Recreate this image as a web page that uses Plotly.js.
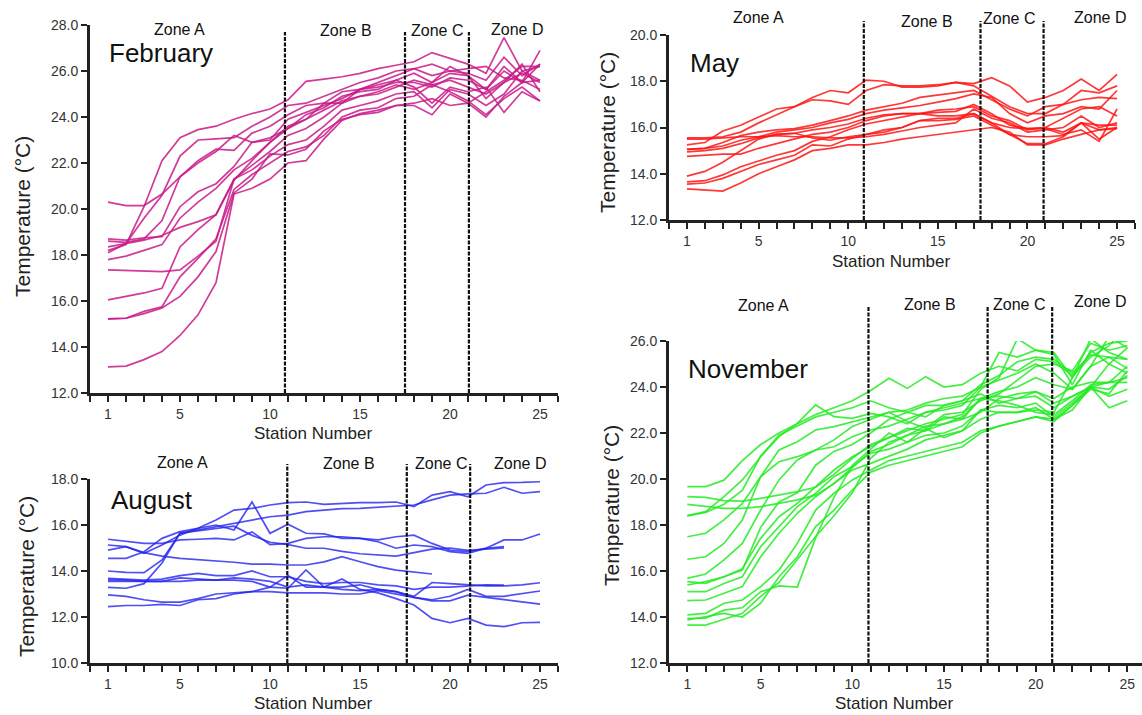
<!DOCTYPE html>
<html>
<head>
<meta charset="utf-8">
<script src="https://cdn.plot.ly/plotly-3.0.1.min.js"></script>
<style>html,body{margin:0;padding:0;background:#fff;}#chart{width:1142px;height:715px;}</style>
</head>
<body>
<div id="chart"></div>
<script>
// ---------- DATA ----------
const stations = [1,2,3,4,5,6,7,8,9,10,11,12,13,14,15,16,17,18,19,20,21,22,23,24,25];
const xTickVals = [0,1,2,3,4,5,6,7,8,9,10,11,12,13,14,15,16,17,18,19,20,21,22,23,24,25,26];
const xTickText = ['','1','','','','5','','','','','10','','','','','15','','','','','20','','','','','25',''];
const zoneNames = ['Zone A','Zone B','Zone C','Zone D'];

const febBounds = [10.83, 17.5, 21.05];
const mayBounds = [10.87, 17.38, 20.9];
const augBounds = [10.96, 17.6, 21.12];
const novBounds = [10.88, 17.38, 20.9];

const febLines = [
 [18.2,18.45,20.1,22.1,23.1,23.45,23.6,23.9,24.15,24.35,24.75,25.55,25.65,25.75,25.9,26.1,26.25,26.4,26.8,26.55,26.3,25.9,27.45,26.0,26.2],
 [18.1,18.5,19.6,20.6,22.3,23.0,23.05,23.1,23.6,24.0,24.5,24.6,24.9,25.2,25.5,25.7,26.0,26.1,25.8,26.0,25.9,25.6,26.6,25.8,26.3],
 [18.6,18.55,18.7,19.5,21.4,22.1,22.6,22.55,23.3,23.6,24.1,24.5,24.6,25.1,25.2,25.3,25.5,25.5,25.3,25.7,25.6,25.2,26.2,25.5,26.9],
 [18.7,18.65,18.75,18.8,20.1,20.75,21.1,21.85,22.9,23.1,23.5,23.9,24.6,24.6,25.2,25.4,25.6,25.9,25.5,25.9,25.8,24.8,25.5,26.3,25.1],
 [18.35,18.5,18.65,18.85,19.2,19.45,19.75,21.25,22.1,22.9,23.6,23.9,24.3,24.7,24.9,25.1,25.4,25.2,25.5,26.2,25.8,25.2,26.0,25.5,25.6],
 [20.3,20.15,20.15,20.65,21.4,22.0,22.5,23.2,22.9,23.0,23.9,24.2,24.5,24.8,25.2,25.5,25.8,26.1,26.3,26.0,26.1,26.2,25.7,25.6,25.2],
 [17.8,17.95,18.2,18.45,19.6,20.3,20.9,21.7,22.2,22.9,23.5,24.1,24.4,24.9,25.1,25.2,25.6,25.3,24.6,25.3,25.1,25.3,24.2,25.1,24.7],
 [16.05,16.2,16.35,16.55,18.35,19.1,19.75,21.3,21.9,22.5,23.2,23.5,24.0,24.6,24.9,25.0,25.3,25.6,25.4,25.6,25.3,25.0,25.5,25.9,25.5],
 [17.35,17.32,17.28,17.28,17.35,17.95,18.6,21.3,21.7,22.3,22.8,23.0,23.6,24.3,24.5,24.7,25.0,25.1,24.4,25.2,25.0,24.5,25.0,26.0,25.6],
 [15.22,15.25,15.55,15.75,17.05,17.85,18.7,20.85,21.5,22.0,22.5,22.7,23.2,24.0,24.3,24.4,24.8,24.9,25.4,25.1,24.7,24.1,24.8,25.3,24.7],
 [15.22,15.25,15.45,15.7,16.2,17.05,18.15,20.7,21.3,22.4,22.35,22.6,23.4,23.9,24.1,24.2,24.5,24.6,24.8,24.5,24.6,25.1,25.6,26.2,26.2],
 [13.14,13.17,13.45,13.8,14.5,15.4,16.8,20.65,20.9,21.3,22.0,22.1,23.05,23.85,24.15,24.3,24.5,24.5,24.1,25.0,24.6,24.0,24.9,25.5,26.3]
];

const mayLines = [
 [15.55,15.55,15.6,15.8,16.2,16.55,16.9,17.3,17.6,17.5,18.05,18.0,17.75,17.75,17.8,17.95,17.8,17.35,16.9,16.6,16.6,17.0,17.6,17.5,17.8],
 [15.25,15.35,15.85,16.1,16.45,16.8,16.9,17.2,17.15,17.0,17.6,17.85,17.8,17.8,17.85,17.95,17.9,18.15,17.8,17.1,17.3,17.6,18.1,17.6,18.3],
 [15.5,15.5,15.55,15.6,15.6,15.65,15.6,15.6,15.55,15.55,15.6,15.7,15.85,16.0,16.1,16.2,16.8,16.4,16.2,15.8,15.9,16.0,16.5,16.0,16.2],
 [15.05,15.1,15.35,15.65,15.8,15.9,15.95,16.1,16.3,16.5,16.75,16.9,17.05,17.3,17.4,17.5,17.6,17.2,16.8,16.5,16.9,17.0,17.2,17.3,17.25],
 [15.05,15.1,15.2,15.45,15.6,15.8,15.9,16.0,16.2,16.35,16.6,16.75,16.85,16.95,17.1,17.25,17.45,17.3,16.6,16.2,16.5,16.6,16.9,16.8,17.6],
 [14.95,15.0,15.1,15.3,15.55,15.7,15.75,15.9,16.0,16.15,16.4,16.55,16.6,16.6,16.65,16.7,17.0,16.6,16.1,15.95,16.0,16.4,16.8,16.9,16.5],
 [14.75,14.8,14.85,14.85,15.1,15.3,15.5,15.7,15.8,16.0,16.3,16.5,16.6,16.6,16.5,16.5,16.6,16.2,15.7,15.3,15.3,15.6,16.2,15.9,15.95],
 [13.9,14.1,14.5,15.0,15.5,15.7,15.75,15.55,15.45,15.6,15.7,15.8,16.0,16.3,16.4,16.4,16.6,16.2,16.0,15.95,15.95,15.7,15.9,15.4,16.8],
 [13.65,13.7,13.95,14.3,14.55,14.8,15.0,15.4,15.6,15.9,16.15,16.3,16.45,16.6,16.75,16.8,16.9,16.5,16.3,15.9,16.0,15.8,16.2,16.1,16.1],
 [13.55,13.6,13.8,14.1,14.4,14.6,14.8,15.25,15.2,15.5,15.7,15.9,16.0,16.3,16.3,16.35,16.5,16.1,15.7,15.6,15.6,15.65,16.2,15.5,16.0],
 [13.35,13.3,13.25,13.6,14.0,14.3,14.6,15.0,15.1,15.25,15.25,15.35,15.5,15.6,15.7,15.8,15.9,16.0,15.8,15.25,15.25,15.5,15.7,15.9,16.0]
];

const augLines = [
 [14.91,15.06,14.77,15.13,15.56,15.86,16.22,16.65,16.72,16.87,16.97,17.0,16.9,16.94,16.97,16.97,17.0,16.8,17.3,17.45,17.23,17.74,17.84,17.85,17.88],
 [14.0,13.94,13.93,14.48,15.64,15.78,15.93,16.07,16.22,16.36,16.43,16.58,16.65,16.71,16.72,16.77,16.83,16.87,17.09,17.3,17.35,17.38,17.64,17.38,17.45],
 [14.55,14.55,14.84,15.42,15.71,15.86,16.0,15.78,17.0,15.64,16.03,15.64,15.61,15.42,15.42,15.27,14.99,15.13,15.06,14.84,14.77,14.99,15.06,null,null],
 [15.38,15.28,15.2,15.2,15.35,15.38,15.42,15.35,15.7,15.15,15.2,15.42,15.49,15.49,15.42,15.35,15.49,15.56,15.2,14.91,14.84,14.99,15.35,15.35,15.61],
 [15.13,15.06,14.8,14.65,14.55,14.5,14.45,14.38,14.3,14.3,14.26,14.26,14.4,14.62,14.4,14.19,14.04,13.97,13.87,null,null,null,null,null,null],
 [13.29,13.25,13.45,14.35,15.65,15.75,15.85,15.95,15.55,15.25,15.15,14.99,14.99,14.85,14.75,14.7,14.65,14.8,14.95,15.0,14.9,14.95,15.0,null,null],
 [13.68,13.65,13.6,13.65,13.8,13.9,13.8,13.8,14.0,13.75,13.75,13.55,13.45,13.5,13.5,13.4,13.35,13.2,13.3,13.3,13.35,13.4,13.39,null,null],
 [13.61,13.6,13.55,13.55,13.55,13.6,13.6,13.6,13.55,13.3,13.25,14.05,13.3,13.65,13.2,13.05,12.8,12.52,11.94,11.75,11.94,11.65,11.58,11.75,11.77],
 [13.55,13.55,13.55,13.55,13.7,13.65,13.6,13.7,13.65,13.55,13.3,13.4,13.3,13.3,13.4,13.2,13.1,12.9,13.5,13.45,13.4,13.35,13.35,13.4,13.49],
 [12.96,12.9,12.75,12.65,12.65,12.8,13.0,13.05,13.1,13.1,13.05,13.05,13.05,13.0,13.0,13.15,13.0,12.85,12.7,12.7,12.95,12.85,12.75,12.65,12.56],
 [12.45,12.5,12.5,12.55,12.5,12.75,12.8,13.0,13.1,13.3,13.8,13.3,13.3,13.2,13.15,13.2,13.1,12.85,12.75,12.9,13.2,12.9,12.9,13.0,13.13]
];

const novLines = [
 [19.67,19.67,19.95,20.8,21.5,22.0,22.4,22.8,23.1,23.4,23.85,24.38,23.94,24.45,24.0,24.1,24.6,24.9,24.7,25.2,25.1,24.5,25.3,25.8,26.6],
 [19.23,19.2,19.06,19.04,19.16,19.3,19.45,19.64,20.2,20.9,21.5,21.8,22.1,22.4,22.6,22.8,23.9,24.4,26.1,25.6,25.5,24.4,26.1,25.5,25.2],
 [18.9,18.8,18.72,18.72,18.8,18.94,19.09,19.3,19.8,20.5,21.2,21.5,21.9,22.3,22.4,22.6,23.5,23.8,24.0,24.4,24.1,23.9,24.9,26.2,25.7],
 [18.41,18.58,19.23,19.96,20.97,21.84,22.42,23.22,22.71,22.64,22.85,22.7,22.4,22.9,23.0,23.2,24.0,25.5,25.3,25.6,25.4,24.1,25.6,25.0,24.6],
 [17.49,17.64,18.22,18.94,20.1,20.75,20.97,21.26,21.4,21.84,22.13,22.3,22.6,22.9,23.1,23.3,23.5,23.4,23.2,22.9,22.8,23.4,24.1,24.2,24.2],
 [16.51,16.62,17.2,18.22,20.1,21.26,21.62,22.13,22.28,22.49,22.71,22.9,22.5,22.2,22.8,22.9,23.4,23.7,24.3,24.9,25.0,24.7,25.9,25.6,25.8],
 [15.68,15.87,16.48,17.2,18.65,19.96,20.83,21.26,21.7,22.28,22.6,22.9,23.0,23.3,23.5,23.6,24.0,24.3,24.6,25.0,24.6,23.9,24.9,25.3,24.8],
 [15.54,15.46,15.75,16.04,17.9,19.0,19.4,20.6,21.2,21.5,22.0,22.6,22.9,22.7,23.2,23.4,23.7,23.3,23.5,23.8,23.5,24.0,24.2,24.2,24.9],
 [15.39,15.54,15.75,16.1,17.42,18.36,18.94,19.67,20.39,20.97,21.41,21.8,22.2,22.1,22.4,22.7,23.5,23.6,23.5,23.6,23.1,23.6,24.0,24.2,24.4],
 [15.1,15.1,15.46,15.75,17.06,17.93,18.8,19.38,20.1,20.54,21.12,21.3,21.6,21.9,22.0,22.3,23.0,23.2,23.1,23.3,22.7,23.3,24.0,23.1,23.4],
 [14.71,14.74,15.03,15.32,16.62,17.64,18.51,19.23,19.81,20.39,20.68,21.0,21.3,21.7,21.9,22.1,22.6,22.9,22.9,23.1,22.6,23.0,24.0,23.9,24.5],
 [14.09,14.16,14.6,14.74,15.32,16.04,17.2,18.65,19.38,19.96,20.39,20.8,21.0,21.2,21.4,21.6,22.1,22.3,22.5,22.7,22.6,23.2,23.9,23.7,24.7],
 [13.94,13.95,14.3,14.4,15.1,15.35,15.3,17.45,19.2,20.6,21.3,22.0,21.6,22.2,21.8,22.1,23.0,22.9,22.9,23.0,22.9,24.4,25.5,25.9,26.0],
 [13.87,14.0,14.16,14.0,14.6,15.75,16.62,17.93,18.65,19.52,20.3,20.6,20.8,21.0,21.2,21.4,22.0,22.3,22.5,22.7,22.5,23.2,24.0,23.6,23.9],
 [13.65,13.65,13.9,14.16,14.9,15.5,16.5,17.5,18.4,19.4,20.9,21.6,21.9,22.1,22.7,22.6,22.9,23.5,23.7,23.8,23.3,23.6,24.0,25.0,25.7],
 [18.4,18.55,18.9,19.5,21.0,21.9,22.3,22.7,22.9,23.1,23.4,23.1,22.9,23.2,23.2,23.4,24.1,24.5,25.1,25.3,25.2,24.6,25.4,25.3,25.2]
];

// ---------- LAYOUT HELPERS ----------
const W = 1142, H = 715;
const PX = v => v / W;
const PY = v => 1 - v / H;
const FONT = 'Liberation Sans, Arial, sans-serif';

const panels = [
  {name:'February', lines:febLines, color:'rgba(200,25,135,0.85)', xa:'x',  ya:'y',
   xdom:[90,558], ydom:[25,393], xr:[0,26], yr:[12,28], bounds:febBounds, zoneTop:32,
   zoneLbl:[[180,29],[346,30],[437,30],[517,29]], month:[107,53],
   ytitle:[22,217], xtitle:[313,433]},
  {name:'May', lines:mayLines, color:'rgba(255,20,20,0.85)', xa:'x2', ya:'y2',
   xdom:[669,1135], ydom:[35,220], xr:[0,26], yr:[12,20], bounds:mayBounds, zoneTop:21,
   zoneLbl:[[758,17],[927,21],[1009,19],[1100,17]], month:[688,63],
   ytitle:[607,133], xtitle:[891,261]},
  {name:'August', lines:augLines, color:'rgba(35,35,240,0.8)', xa:'x3', ya:'y3',
   xdom:[90,558], ydom:[479,663], xr:[0,26], yr:[10,18], bounds:augBounds, zoneTop:464,
   zoneLbl:[[182,462],[349,463],[441,463],[520,463]], month:[109,500],
   ytitle:[26,577], xtitle:[313,703]},
  {name:'November', lines:novLines, color:'rgba(35,235,35,0.85)', xa:'x4', ya:'y4',
   xdom:[669,1142], ydom:[341,663], xr:[0,25.8], yr:[12,26], bounds:novBounds, zoneTop:306,
   zoneLbl:[[763,305],[930,304],[1019,304],[1100,302]], month:[686,369],
   ytitle:[611,506], xtitle:[894,703]}
];

const traces = [];
const layout = {
  width: W, height: H,
  margin: {l:0, r:0, t:0, b:0},
  paper_bgcolor: '#fff', plot_bgcolor: 'rgba(0,0,0,0)',
  showlegend: false,
  font: {family: FONT, color: '#222'},
  shapes: [], annotations: []
};

panels.forEach((p, idx) => {
  p.lines.forEach(vals => {
    traces.push({
      type: 'scatter', mode: 'lines', x: stations, y: vals,
      xaxis: p.xa, yaxis: p.ya, connectgaps: false, hoverinfo: 'skip',
      line: {color: p.color, width: 1.7}
    });
  });
  const xKey = 'xaxis' + (idx === 0 ? '' : idx + 1);
  const yKey = 'yaxis' + (idx === 0 ? '' : idx + 1);
  const axBase = {
    showline: true, linewidth: 3, linecolor: '#222',
    ticks: 'outside', ticklen: 6, tickwidth: 2, tickcolor: '#222',
    showgrid: false, zeroline: false, fixedrange: true
  };
  layout[xKey] = Object.assign({}, axBase, {
    domain: [PX(p.xdom[0]), PX(p.xdom[1])], range: p.xr, anchor: p.ya,
    tickmode: 'array', tickvals: xTickVals, ticktext: xTickText,
    tickfont: {family: FONT, size: 14, color: '#333'}
  });
  layout[yKey] = Object.assign({}, axBase, {
    domain: [PY(p.ydom[1]), PY(p.ydom[0])], range: p.yr, anchor: p.xa,
    dtick: 2, tick0: 0, tickformat: '.1f',
    tickfont: {family: FONT, size: 14, color: '#333'}
  });
  // zone boundary lines
  p.bounds.forEach(b => {
    layout.shapes.push({
      type: 'line', xref: p.xa, yref: 'paper', x0: b, x1: b,
      y0: PY(p.ydom[1]), y1: PY(p.zoneTop),
      line: {color: '#111', width: 2.2, dash: '4px,1.5px'}
    });
  });
  // zone labels
  zoneNames.forEach((z, i) => {
    layout.annotations.push({
      xref: 'paper', yref: 'paper', x: PX(p.zoneLbl[i][0]), y: PY(p.zoneLbl[i][1]),
      xanchor: 'center', yanchor: 'middle', showarrow: false, text: z,
      font: {family: FONT, size: 16, color: '#111'}
    });
  });
  // month label
  layout.annotations.push({
    xref: 'paper', yref: 'paper', x: PX(p.month[0]), y: PY(p.month[1]),
    xanchor: 'left', yanchor: 'middle', showarrow: false, text: p.name,
    font: {family: FONT, size: 26, color: '#111'}
  });
  // axis titles
  layout.annotations.push({
    xref: 'paper', yref: 'paper', x: PX(p.ytitle[0]), y: PY(p.ytitle[1]),
    xanchor: 'center', yanchor: 'middle', showarrow: false, textangle: -90,
    text: 'Temperature (°C)', font: {family: FONT, size: 21, color: '#222'}
  });
  layout.annotations.push({
    xref: 'paper', yref: 'paper', x: PX(p.xtitle[0]), y: PY(p.xtitle[1]),
    xanchor: 'center', yanchor: 'middle', showarrow: false,
    text: 'Station Number', font: {family: FONT, size: 17, color: '#222'}
  });
});

Plotly.newPlot('chart', traces, layout, {staticPlot: true, displayModeBar: false});
</script>
</body>
</html>
